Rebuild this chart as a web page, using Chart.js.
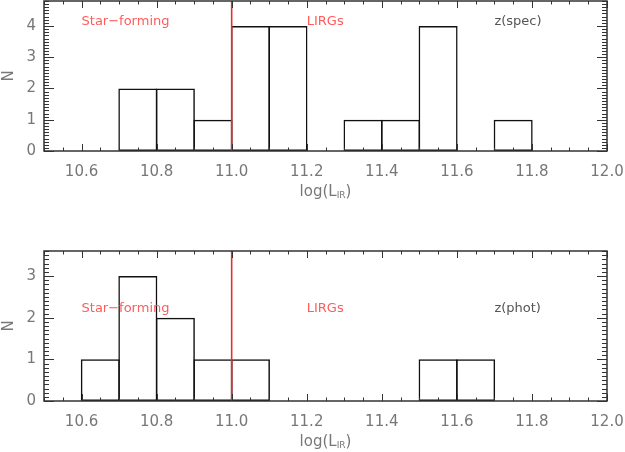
<!DOCTYPE html>
<html>
<head>
<meta charset="utf-8">
<script src="https://cdn.jsdelivr.net/npm/chart.js@4"></script>
<style>
  html, body { margin: 0; padding: 0; background: #fff; }
  #wrap { position: relative; width: 625px; height: 452px; overflow: hidden; }
  .panel { position: absolute; left: 0; width: 625px; height: 226px; }
</style>
</head>
<body>
<div id="wrap">
  <div class="panel" style="top:0"><canvas id="specChart" width="625" height="226"></canvas></div>
  <div class="panel" style="top:226px"><canvas id="photChart" width="625" height="226"></canvas></div>
</div>
<script>
// histogram bins (centres, width 0.1 in log L_IR)
const binCenters = [10.55, 10.65, 10.75, 10.85, 10.95, 11.05, 11.15, 11.25, 11.35, 11.45, 11.55, 11.65, 11.75, 11.85, 11.95];
const specCounts = [0, 0, 2, 2, 1, 4, 4, 0, 1, 1, 4, 0, 1, 0, 0];
const photCounts = [0, 1, 3, 2, 1, 1, 0, 0, 0, 0, 1, 1, 0, 0, 0];

const xTicks = [10.6, 10.8, 11.0, 11.2, 11.4, 11.6, 11.8, 12.0];
const specYTicks = [0, 1, 2, 3, 4];
const photYTicks = [0, 1, 2, 3];
const xRange = [10.5, 12.0];
const specYMax = 4.8;
const photYMax = 3.6;
const lirgCut = 11.0;

const specLabels = [
    { text: 'Star\u2212forming', x: 10.6, y: 4.15, red: true },
    { text: 'LIRGs', x: 11.2, y: 4.15, red: true },
    { text: 'z(spec)', x: 11.7, y: 4.15, red: false }
];
const photLabels = [
    { text: 'Star\u2212forming', x: 10.6, y: 2.22, red: true },
    { text: 'LIRGs', x: 11.2, y: 2.22, red: true },
    { text: 'z(phot)', x: 11.7, y: 2.22, red: false }
];

const FONT = "'DejaVu Sans', sans-serif";
const AXIS_COLOR = '#333';
const LABEL_COLOR = '#777';
const RED_TEXT = '#ff5c5c';
const RED_LINE = '#e62e2e';

// draws the IDL style box, inward ticks, text labels and the x title
const idlFrame = {
    id: 'idlFrame',
    afterDraw(chart, args, opts) {
        const ctx = chart.ctx;
        const area = chart.chartArea;
        const xs = chart.scales.x;
        const ys = chart.scales.y;
        ctx.save();
        ctx.strokeStyle = AXIS_COLOR;
        ctx.lineWidth = 1.5;
        ctx.strokeRect(area.left, area.top, area.right - area.left, area.bottom - area.top);

        ctx.lineWidth = 1;
        ctx.beginPath();
        // x ticks every 0.05, major every 0.2
        for (let i = 0; i <= 30; i++) {
            const v = xRange[0] + i * 0.05;
            const px = Math.round(xs.getPixelForValue(v)) + 0.5;
            const len = ((i - 2) % 4 === 0) ? 7 : 3.5;
            ctx.moveTo(px, area.bottom); ctx.lineTo(px, area.bottom - len);
            ctx.moveTo(px, area.top); ctx.lineTo(px, area.top + len);
        }
        // y ticks every 0.1, major at integers
        const nY = Math.round(opts.yMax * 10);
        for (let i = 0; i <= nY; i++) {
            const py = Math.round(ys.getPixelForValue(i / 10)) + 0.5;
            const len = (i % 10 === 0) ? 10 : 5;
            ctx.moveTo(area.left, py); ctx.lineTo(area.left + len, py);
            ctx.moveTo(area.right, py); ctx.lineTo(area.right - len, py);
        }
        ctx.stroke();

        // region labels
        ctx.font = '13px ' + FONT;
        ctx.textAlign = 'left';
        ctx.textBaseline = 'middle';
        opts.labels.forEach(l => {
            ctx.fillStyle = l.red ? RED_TEXT : '#555';
            ctx.fillText(l.text, xs.getPixelForValue(l.x), ys.getPixelForValue(l.y));
        });

        // x title: log(L_IR)
        const cx = (area.left + area.right) / 2;
        const ty = area.bottom + 41;
        ctx.fillStyle = LABEL_COLOR;
        ctx.font = '15px ' + FONT;
        const w1 = ctx.measureText('log(L').width;
        const w3 = ctx.measureText(')').width;
        ctx.font = '9px ' + FONT;
        const w2 = ctx.measureText('IR').width;
        let x0 = cx - (w1 + w2 + w3) / 2;
        ctx.font = '15px ' + FONT;
        ctx.fillText('log(L', x0, ty);
        ctx.font = '9px ' + FONT;
        ctx.fillText('IR', x0 + w1, ty + 4);
        ctx.font = '15px ' + FONT;
        ctx.fillText(')', x0 + w1 + w2, ty);
        ctx.restore();
    }
};

function makeChart(canvasId, counts, yMax, yTicks, labels, padTop, xHeight) {
    const barData = binCenters.map((c, i) => ({ x: c, y: counts[i] }));
    return new Chart(document.getElementById(canvasId), {
        type: 'bar',
        data: {
            datasets: [
                {
                    type: 'line',
                    data: [{ x: lirgCut, y: 0 }, { x: lirgCut, y: yMax }],
                    borderColor: RED_LINE,
                    borderWidth: 1.6,
                    pointRadius: 0,
                    clip: false,
                    order: 0
                },
                {
                    type: 'bar',
                    data: barData,
                    backgroundColor: 'rgba(0,0,0,0)',
                    borderColor: '#111',
                    borderWidth: 1.5,
                    borderSkipped: false,
                    barPercentage: 1.04,
                    categoryPercentage: 1,
                    order: 1
                }
            ]
        },
        options: {
            responsive: false,
            animation: false,
            devicePixelRatio: 1,
            layout: { padding: { left: 0, right: 18, top: padTop, bottom: 0 } },
            plugins: {
                legend: { display: false },
                tooltip: { enabled: false },
                idlFrame: { yMax: yMax, labels: labels }
            },
            scales: {
                x: {
                    type: 'linear',
                    min: xRange[0],
                    max: xRange[1],
                    offset: false,
                    grid: { display: false, drawTicks: false, offset: false },
                    border: { display: false },
                    afterBuildTicks: s => { s.ticks = xTicks.map(v => ({ value: v })); },
                    afterFit: s => {
                        s.height = xHeight;
                        s.paddingLeft = 0;
                        s.paddingRight = 0;
                    },
                    ticks: {
                        autoSkip: false,
                        maxRotation: 0,
                        padding: 12,
                        color: LABEL_COLOR,
                        font: { family: FONT, size: 15 },
                        callback: v => v.toFixed(1)
                    }
                },
                y: {
                    min: 0,
                    max: yMax,
                    grid: { display: false, drawTicks: false },
                    border: { display: false },
                    afterBuildTicks: s => { s.ticks = yTicks.map(v => ({ value: v })); },
                    afterFit: s => {
                        s.width = 44;
                        s.paddingTop = 0;
                        s.paddingBottom = 0;
                    },
                    title: {
                        display: true,
                        text: 'N',
                        color: LABEL_COLOR,
                        font: { family: FONT, size: 15 },
                        padding: 0
                    },
                    ticks: {
                        padding: 8,
                        color: LABEL_COLOR,
                        font: { family: FONT, size: 15 }
                    }
                }
            }
        },
        plugins: [idlFrame]
    });
}

makeChart('specChart', specCounts, specYMax, specYTicks, specLabels, 1, 75);
makeChart('photChart', photCounts, photYMax, photYTicks, photLabels, 25, 51);
</script>
</body>
</html>
